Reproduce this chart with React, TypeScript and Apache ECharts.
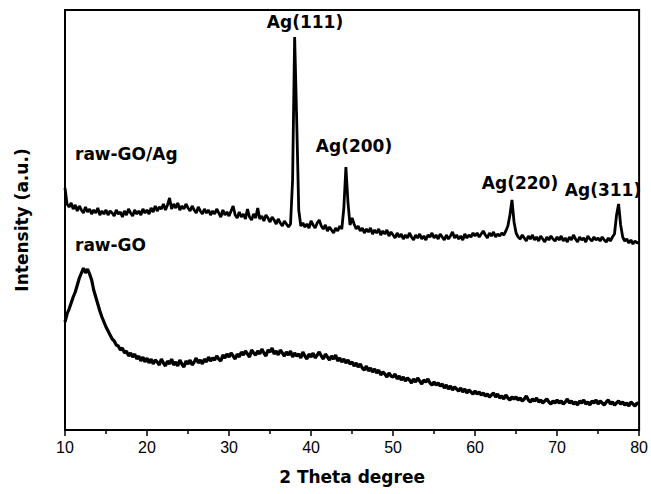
import React, { useEffect, useRef } from "react";
import * as echarts from "echarts";

// 2θ sampling: 10° .. 80° every 0.25°
const THETA_START = 10;
const THETA_STEP = 0.25;

const xTickValues = [10, 20, 30, 40, 50, 60, 70, 80];

// raw-GO/Ag intensity (a.u., offset trace), rows of 5°
const rawGOAg = [
  242, 226, 223, 227, 221, 225, 219, 224, 220, 217, 223, 218, 221, 216, 220, 217, 222, 215, 219, 216,
  220, 215, 219, 217, 214, 220, 216, 218, 213, 219, 215, 221, 217, 214, 220, 216, 219, 215, 221, 217,
  220, 216, 222, 218, 224, 219, 223, 221, 226, 220, 225, 232, 221, 226, 222, 227, 220, 224, 221, 226,
  222, 219, 224, 220, 217, 223, 219, 216, 221, 217, 220, 215, 219, 216, 221, 217, 213, 220, 215, 218,
  214, 219, 224, 215, 212, 218, 213, 216, 211, 221, 213, 210, 216, 212, 222, 211, 214, 209, 215, 212,
  208, 213, 210, 206, 211, 207, 204, 209, 206, 203, 206, 250, 393, 310, 220, 204, 207, 203, 206, 202,
  209, 205, 202, 207, 210, 204, 201, 205, 199, 203, 200, 197, 202, 199, 204, 201, 222, 263, 228, 205,
  212, 206, 201, 204, 199, 202, 197, 201, 198, 202, 196, 200, 197, 201, 195, 199, 196, 200, 194, 198,
  195, 192, 197, 193, 196, 191, 195, 192, 197, 193, 190, 195, 192, 196, 191, 194, 190, 195, 193, 197,
  192, 195, 191, 196, 193, 190, 195, 191, 194, 198, 192, 195, 191, 194, 190, 196, 192, 195, 193, 197,
  194, 197, 193, 196, 199, 195, 192, 197, 194, 198, 193, 196, 194, 197, 195, 199, 204, 215, 230, 208,
  197, 193, 191, 195, 192, 189, 194, 191, 195, 190, 193, 189, 194, 191, 188, 193, 190, 194, 191, 189,
  193, 190, 194, 189, 192, 188, 193, 190, 195, 191, 188, 193, 190, 192, 188, 194, 191, 189, 193, 190,
  192, 189, 193, 190, 188, 192, 189, 193, 196, 215, 226, 205, 193, 189, 191, 187, 190, 186, 189, 187,
  188,
];

// raw-GO intensity (a.u.), rows of 5°
const rawGO = [
  108, 116, 121, 127, 133, 138, 145, 152, 157, 162, 157, 161, 156, 150, 140, 133, 126, 119, 113, 108,
  103, 99, 95, 91, 89, 85, 84, 80, 82, 77, 79, 74, 77, 73, 76, 71, 74, 69, 73, 68,
  72, 67, 71, 66, 70, 68, 65, 71, 67, 64, 69, 66, 71, 65, 68, 64, 70, 66, 63, 69,
  66, 70, 65, 68, 72, 67, 70, 66, 71, 68, 73, 69, 72, 70, 74, 71, 69, 75, 72, 76,
  73, 77, 74, 71, 76, 73, 78, 75, 79, 76, 73, 80, 77, 75, 79, 76, 81, 77, 74, 80,
  78, 82, 76, 79, 75, 80, 77, 74, 78, 75, 79, 73, 77, 74, 76, 72, 78, 74, 71, 76,
  73, 77, 72, 75, 78, 74, 71, 76, 73, 70, 74, 71, 75, 69, 72, 68, 71, 67, 70, 66,
  68, 64, 67, 63, 66, 62, 60, 64, 59, 62, 58, 61, 57, 60, 55, 58, 56, 53, 57, 54,
  53, 56, 51, 54, 50, 53, 49, 52, 50, 47, 51, 48, 52, 49, 46, 50, 48, 51, 47, 45,
  48, 45, 47, 44, 46, 42, 45, 41, 44, 40, 43, 41, 39, 42, 38, 41, 37, 40, 38, 36,
  39, 36, 38, 35, 37, 34, 36, 33, 35, 37, 33, 36, 32, 34, 31, 35, 32, 30, 33, 31,
  33, 30, 32, 29, 31, 34, 30, 28, 31, 29, 32, 28, 30, 27, 29, 31, 28, 26, 29, 27,
  30, 27, 29, 26, 28, 31, 27, 29, 26, 28, 25, 29, 27, 30, 26, 28, 25, 29, 27, 30,
  26, 29, 27, 25, 28, 30, 26, 28, 25, 27, 29, 26, 28, 25, 27, 24, 28, 26, 24, 27,
  26,
];

const peakLabels = ["Ag(111)", "Ag(200)", "Ag(220)", "Ag(311)"];
const sampleLabels = ["raw-GO/Ag", "raw-GO"];
const xAxisTitle = "2 Theta degree";
const yAxisTitle = "Intensity (a.u.)";

const BOLD_FONT = "'DejaVu Sans', sans-serif";
const TICK_FONT = "'Liberation Sans', Arial, sans-serif";

function toPairs(values: number[]) {
  return values.map((v, i) => [THETA_START + i * THETA_STEP, v]);
}

export default function App() {
  const ref = useRef<HTMLDivElement>(null);

  useEffect(() => {
    if (!ref.current) return;
    const chart = echarts.init(ref.current, undefined, { renderer: "svg" });

    const labelStyle = (text: string, x: number, y: number, align: string = "center") => ({
      type: "text",
      x,
      y,
      style: {
        text,
        fontFamily: BOLD_FONT,
        fontWeight: "bold",
        fontSize: 17,
        fill: "#000",
        textAlign: align,
        textVerticalAlign: "middle",
      },
    });

    chart.setOption({
      animation: false,
      backgroundColor: "#fff",
      grid: {
        left: 65,
        right: 10,
        top: 10,
        bottom: 64,
        show: true,
        borderColor: "#000",
        borderWidth: 2,
      },
      xAxis: {
        type: "value",
        min: 10,
        max: 80,
        interval: 10,
        name: xAxisTitle,
        nameLocation: "middle",
        nameGap: 38,
        nameTextStyle: {
          fontFamily: BOLD_FONT,
          fontWeight: "bold",
          fontSize: 17,
          color: "#000",
        },
        axisLine: { show: true, lineStyle: { color: "#000", width: 2 } },
        axisTick: { show: true, inside: false, length: 6, lineStyle: { color: "#000", width: 1.5 } },
        minorTick: { show: true, splitNumber: 2, length: 4, lineStyle: { color: "#000", width: 1.5 } },
        axisLabel: {
          fontFamily: TICK_FONT,
          fontSize: 16,
          color: "#000",
          margin: 9,
          formatter: (v: number) => (xTickValues.includes(v) ? String(v) : ""),
        },
        splitLine: { show: false },
      },
      yAxis: {
        type: "value",
        min: 0,
        max: 420,
        name: yAxisTitle,
        nameLocation: "middle",
        nameGap: 35,
        nameRotate: 90,
        nameTextStyle: {
          fontFamily: BOLD_FONT,
          fontWeight: "bold",
          fontSize: 17,
          color: "#000",
        },
        axisLine: { show: true, lineStyle: { color: "#000", width: 2 } },
        axisTick: { show: false },
        axisLabel: { show: false },
        splitLine: { show: false },
      },
      series: [
        {
          name: sampleLabels[0],
          type: "line",
          data: toPairs(rawGOAg),
          showSymbol: false,
          symbol: "none",
          lineStyle: { color: "#000", width: 2.8 },
        },
        {
          name: sampleLabels[1],
          type: "line",
          data: toPairs(rawGO),
          showSymbol: false,
          symbol: "none",
          lineStyle: { color: "#000", width: 3.2 },
        },
      ],
      graphic: [
        labelStyle(peakLabels[0], 305, 22),
        labelStyle(peakLabels[1], 354, 146),
        labelStyle(peakLabels[2], 520, 183),
        labelStyle(peakLabels[3], 603, 190),
        labelStyle(sampleLabels[0], 75, 154, "left"),
        labelStyle(sampleLabels[1], 75, 245, "left"),
      ],
    });

    return () => chart.dispose();
  }, []);

  return (
    <div
      ref={ref}
      style={{ position: "absolute", left: 0, top: 0, width: 651, height: 494 }}
    />
  );
}
